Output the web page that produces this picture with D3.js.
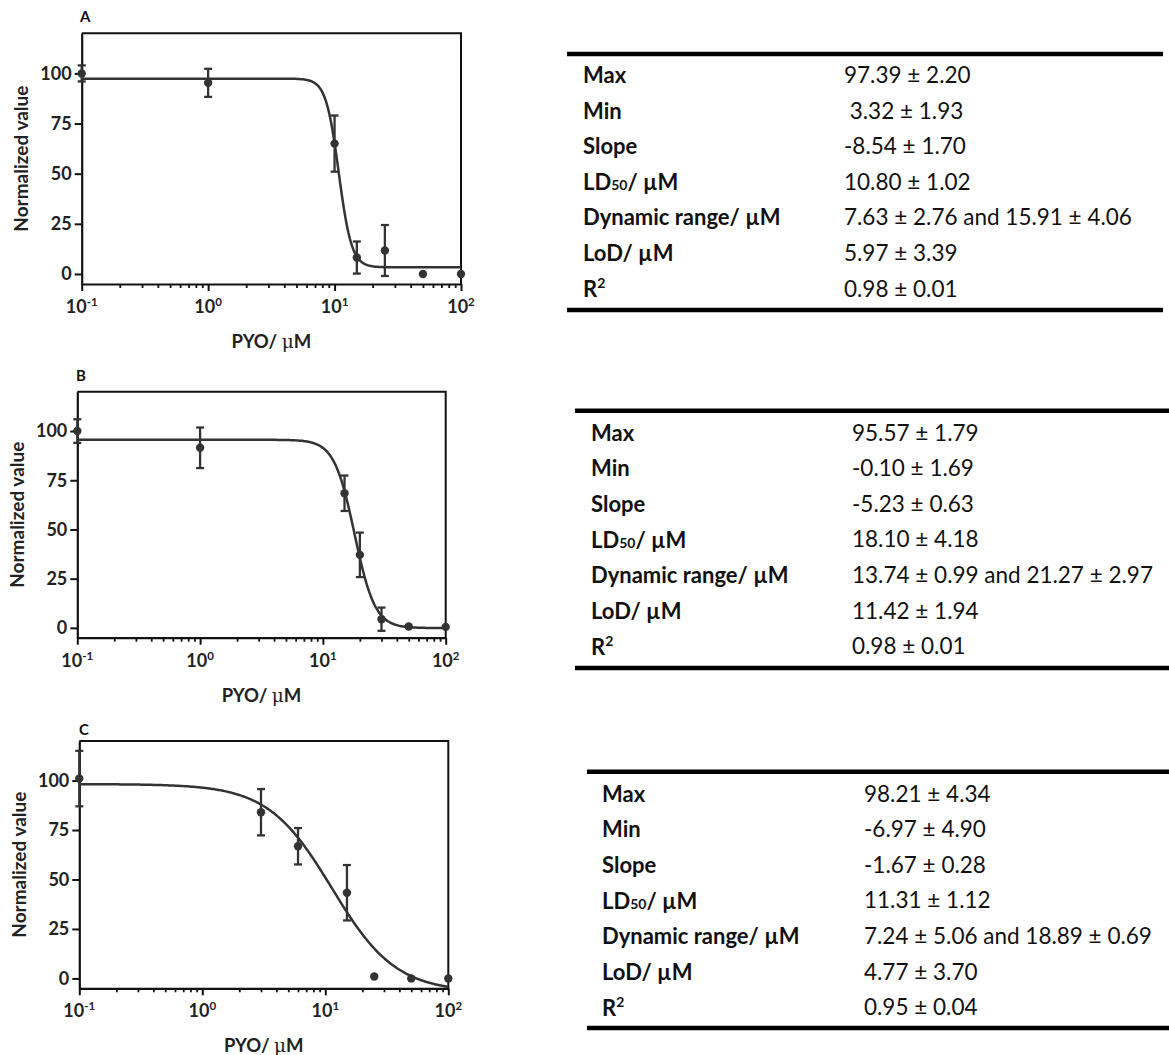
<!DOCTYPE html>
<html>
<head>
<meta charset="utf-8">
<script src="https://cdn.jsdelivr.net/npm/d3@7"></script>
<style>
  html, body { margin: 0; padding: 0; background: #fff; }
  svg { display: block; }
  text { font-family: Lato, "Open Sans", sans-serif; }
</style>
</head>
<body>
<svg id="fig" width="1169" height="1055"></svg>
<script>
// ---- Measured viability data (mean ± SD) for the three PYO series ----
const concA = [0.1, 1, 10, 15, 25, 50, 100];
const meanA = [100, 95.3, 65, 8.2, 11.7, 0, 0];
const errA  = [4, 7, 14, 8, 12.7, 0, 0];

const concB = [0.1, 1, 15, 20, 30, 50, 100];
const meanB = [100, 91.5, 68.4, 37.1, 4.4, 0.7, 0.5];
const errB  = [6, 10.3, 9, 11.3, 5.9, 0, 0];

const concC = [0.1, 3, 6, 15, 25, 50, 100];
const meanC = [101, 84, 66.8, 43.3, 1, 0, 0];
const errC  = [14, 11.7, 9.2, 14, 0, 0, 0];

// ---- Four-parameter dose-response fit results ----
const fitMax   = [97.39, 95.57, 98.21];
const fitMin   = [3.32, -0.10, -6.97];
const fitSlope = [-8.54, -5.23, -1.67];
const fitLD50  = [10.80, 18.10, 11.31];

// ---- Axis ticks ----
const yTicks = [0, 25, 50, 75, 100];
const xMajor = [0.1, 1, 10, 100];
const xExponents = ["-1", "0", "1", "2"];
const xMinor = [0.2,0.3,0.4,0.5,0.6,0.7,0.8,0.9, 2,3,4,5,6,7,8,9, 20,30,40,50,60,70,80,90];

// ---- Table contents ----
const rowLabels = ["Max", "Min", "Slope", "LD50", "Dynamic range/ ", "LoD/ ", "R2"];
const valuesA = ["97.39 ± 2.20", "\u00a03.32 ± 1.93", "-8.54 ± 1.70", "10.80 ± 1.02",
                 "7.63 ± 2.76 and 15.91 ± 4.06", "5.97 ± 3.39", "0.98 ± 0.01"];
const valuesB = ["95.57 ± 1.79", "-0.10 ± 1.69", "-5.23 ± 0.63", "18.10 ± 4.18",
                 "13.74 ± 0.99 and 21.27 ± 2.97", "11.42 ± 1.94", "0.98 ± 0.01"];
const valuesC = ["98.21 ± 4.34", "-6.97 ± 4.90", "-1.67 ± 0.28", "11.31 ± 1.12",
                 "7.24 ± 5.06 and 18.89 ± 0.69", "4.77 ± 3.70", "0.95 ± 0.04"];

const panelNames = ["A", "B", "C"];

// ---- Layout ----
const panels = [
  { left: 81.7, right: 461,   top: 33.3,  bottom: 284,   labelX: 80, labelY: 22 },
  { left: 77.3, right: 445.7, top: 391.7, bottom: 637.7, labelX: 76, labelY: 381 },
  { left: 79.3, right: 448.3, top: 741,   bottom: 988.3, labelX: 79, labelY: 735 }
];
const tables = [
  { x0: 567, x1: 1163, ruleTop: 54,    ruleBottom: 310,  labelX: 583, valueX: 844, row0: 74.5 },
  { x0: 575, x1: 1169, ruleTop: 410.7, ruleBottom: 668,  labelX: 591, valueX: 852, row0: 432 },
  { x0: 587, x1: 1169, ruleTop: 771.7, ruleBottom: 1028, labelX: 602, valueX: 864, row0: 793 }
];
const rowStep = 35.6;

const ink = "#333";
const svg = d3.select("#fig");

const series = [
  { conc: concA, mean: meanA, err: errA },
  { conc: concB, mean: meanB, err: errB },
  { conc: concC, mean: meanC, err: errC }
];

function hill(x, i) {
  return fitMin[i] + (fitMax[i] - fitMin[i]) / (1 + Math.pow(x / fitLD50[i], -fitSlope[i]));
}

series.forEach((s, i) => {
  const p = panels[i];
  const x = d3.scaleLog().domain([0.1, 100]).range([p.left, p.right]);
  const y = d3.scaleLinear().domain([-5, 120]).range([p.bottom, p.top]);
  const g = svg.append("g");

  // frame (top and right)
  g.append("path")
    .attr("d", `M${p.left},${p.top}H${p.right}V${p.bottom}`)
    .attr("fill", "none").attr("stroke", "#111").attr("stroke-width", 2);

  // minor x ticks
  g.append("g").attr("transform", `translate(0,${p.bottom})`)
    .call(d3.axisBottom(x).tickValues(xMinor).tickSize(4).tickSizeOuter(0).tickFormat(""))
    .call(a => a.select(".domain").remove())
    .call(a => a.selectAll("line").attr("stroke", "#111").attr("stroke-width", 1.8));

  // major x ticks + axis line
  const xa = g.append("g").attr("transform", `translate(0,${p.bottom})`)
    .call(d3.axisBottom(x).tickValues(xMajor).tickSize(7).tickSizeOuter(0).tickFormat(""));
  xa.select(".domain").attr("stroke", "#111").attr("stroke-width", 2.2);
  xa.selectAll("line").attr("stroke", "#111").attr("stroke-width", 2);

  // x tick labels as powers of ten
  xMajor.forEach((v, k) => {
    const t = g.append("text")
      .attr("x", x(v)).attr("y", p.bottom + 29)
      .attr("text-anchor", "middle")
      .attr("font-size", 18).attr("font-weight", 700).attr("fill", "#222");
    t.append("tspan").text("10");
    t.append("tspan").attr("dy", -7).attr("font-size", 11.5).text(xExponents[k]);
  });

  // y axis
  const ya = g.append("g").attr("transform", `translate(${p.left},0)`)
    .call(d3.axisLeft(y).tickValues(yTicks).tickSize(7).tickSizeOuter(0).tickPadding(3));
  ya.select(".domain").attr("stroke", "#111").attr("stroke-width", 2.2);
  ya.selectAll("line").attr("stroke", "#111").attr("stroke-width", 2);
  ya.selectAll("text").attr("font-size", 18).attr("font-weight", 700).attr("fill", "#222")
    .attr("font-family", "Lato, sans-serif");

  // axis titles
  g.append("text")
    .attr("transform", `translate(${p.left - 61},${(p.top + p.bottom) / 2}) rotate(-90)`)
    .attr("text-anchor", "middle").attr("dominant-baseline", "central")
    .attr("font-size", 19).attr("font-weight", 700).attr("fill", "#222")
    .text("Normalized value");

  const xt = g.append("text")
    .attr("x", (p.left + p.right) / 2).attr("y", p.bottom + 64)
    .attr("text-anchor", "middle")
    .attr("font-size", 18.5).attr("font-weight", 700).attr("fill", "#222");
  xt.append("tspan").text("PYO/ ");
  xt.append("tspan").attr("font-family", "'DejaVu Serif', serif").attr("font-weight", 400).text("μ");
  xt.append("tspan").text("M");

  // panel letter
  g.append("text").attr("x", p.labelX).attr("y", p.labelY)
    .attr("font-size", 15).attr("font-weight", 700).attr("fill", "#111")
    .text(panelNames[i]);

  // fitted curve
  const grid = d3.range(0, 301).map(k => Math.pow(10, -1 + 3 * k / 300));
  g.append("path")
    .datum(grid)
    .attr("d", d3.line().x(d => x(d)).y(d => y(hill(d, i))))
    .attr("fill", "none").attr("stroke", ink).attr("stroke-width", 2.5);

  // error bars
  const pts = s.conc.map((c, k) => ({ c, m: s.mean[k], e: s.err[k] }));
  const eb = g.append("g").attr("stroke", ink).attr("stroke-width", 2.3);
  pts.filter(d => d.e > 0).forEach(d => {
    const cx = x(d.c);
    eb.append("line").attr("x1", cx).attr("x2", cx).attr("y1", y(d.m + d.e)).attr("y2", y(d.m - d.e));
    eb.append("line").attr("x1", cx - 4).attr("x2", cx + 4).attr("y1", y(d.m + d.e)).attr("y2", y(d.m + d.e));
    eb.append("line").attr("x1", cx - 4).attr("x2", cx + 4).attr("y1", y(d.m - d.e)).attr("y2", y(d.m - d.e));
  });

  // points
  g.append("g").selectAll("circle").data(pts).join("circle")
    .attr("cx", d => x(d.c)).attr("cy", d => y(d.m)).attr("r", 4.2)
    .attr("fill", ink);
});

// ---- Parameter tables ----
const tableValues = [valuesA, valuesB, valuesC];
tables.forEach((t, i) => {
  const g = svg.append("g");
  [t.ruleTop, t.ruleBottom].forEach(ry => {
    g.append("line").attr("x1", t.x0).attr("x2", t.x1).attr("y1", ry).attr("y2", ry)
      .attr("stroke", "#000").attr("stroke-width", 4.5);
  });
  rowLabels.forEach((lab, r) => {
    const yy = t.row0 + r * rowStep;
    const lt = g.append("text").attr("x", t.labelX).attr("y", yy)
      .attr("dominant-baseline", "central")
      .attr("font-size", 22).attr("font-weight", 700).attr("fill", "#111");
    if (lab === "LD50") {
      lt.append("tspan").text("LD");
      lt.append("tspan").attr("font-size", 14).attr("dy", 3).text("50");
      lt.append("tspan").attr("dy", -3).text("/ µM");
    } else if (lab === "R2") {
      lt.append("tspan").text("R");
      lt.append("tspan").attr("font-size", 14).attr("dy", -6).text("2");
    } else if (lab.endsWith("/ ")) {
      lt.text(lab + "µM");
    } else {
      lt.text(lab);
    }
    g.append("text").attr("x", t.valueX).attr("y", yy)
      .attr("dominant-baseline", "central")
      .attr("font-size", 22.5).attr("font-weight", 400).attr("fill", "#111")
      .attr("xml:space", "preserve")
      .text(tableValues[i][r]);
  });
});
</script>
</body>
</html>
